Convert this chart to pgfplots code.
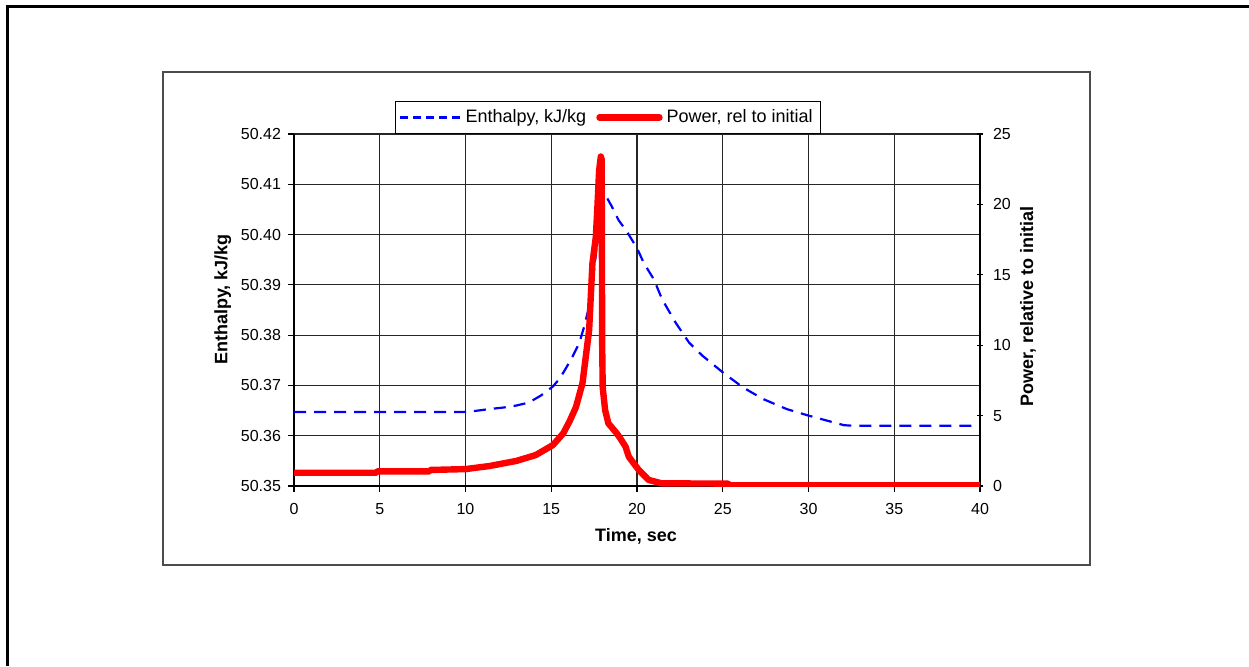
\documentclass[border=0pt]{standalone}
\usepackage{fontspec}
\setmainfont{Liberation Sans}
\usepackage{pgfplots}
\pgfplotsset{compat=1.18}

\pgfplotstableread{
t h
0 50.3647
9.8 50.3647
10.5 50.3649
11.4 50.3653
12.2 50.3656
12.96 50.3660
13.7 50.3666
14.4 50.3680
15.1 50.3698
15.5 50.3714
15.87 50.3735
16.25 50.3758
16.63 50.3784
16.92 50.3817
17.21 50.3857
17.4 50.3903
17.6 50.3960
17.8 50.4030
17.98 50.4088
18.04 50.4086
18.53 50.4056
18.92 50.4029
19.41 50.4006
20.0 50.3973
20.39 50.3944
20.98 50.3911
21.47 50.3871
22.25 50.3825
23.04 50.3785
23.82 50.3759
25.0 50.3726
26.18 50.3696
27.35 50.3673
28.73 50.3653
30.0 50.3640
31.08 50.3630
32.06 50.3621
32.5 50.3620
40 50.3620
}\enthalpy

\pgfplotstableread{
t p
0 0.94
4.8 0.94
4.85 1.04
7.9 1.04
7.95 1.14
10 1.2
11.4 1.42
12.96 1.78
14.1 2.2
15.1 2.91
15.7 3.74
16.07 4.6
16.44 5.6
16.82 7.3
17.21 11.1
17.4 15.8
17.6 17.7
17.69 19.8
17.79 22.4
17.89 23.4
17.94 23.2
17.97 10.0
18.0 7.0
18.14 5.4
18.33 4.45
18.82 3.74
19.02 3.39
19.33 2.8
19.52 2.08
20.1 1.14
20.68 0.43
21.44 0.19
25.3 0.17
25.4 0.05
40 0.05
}\power

\begin{document}
\begin{tikzpicture}
\useasboundingbox (0,0) rectangle (624.5pt,333pt);
% outer frame (only left and top visible)
\draw[line width=1.4pt] (3.85pt,0pt) -- (3.85pt,329.9pt) -- (624.5pt,329.9pt);
% chart area frame
\draw[black!70, line width=1pt] (81.5pt,50.5pt) rectangle (545pt,297pt);

\pgfplotsset{
  every tick label/.append style={font=\fontsize{8}{9.6}\selectfont},
  every axis label/.append style={font=\fontsize{9}{10.8}\selectfont\bfseries},
  /pgf/number format/assume math mode=true,
}

\begin{axis}[
  at={(147pt,90pt)}, anchor=south west,
  scale only axis, width=343pt, height=176pt,
  xmin=0, xmax=40, ymin=50.35, ymax=50.42,
  xtick={0,5,10,15,20,25,30,35,40},
  ytick={50.35,50.36,50.37,50.38,50.39,50.40,50.41,50.42},
  yticklabel style={/pgf/number format/.cd, fixed, fixed zerofill, precision=2},
  xticklabel style={yshift=-2pt},
  axis x line*=bottom, axis y line*=left,
  axis line style={black, line width=0.8pt, -},
  tick align=outside, major tick length=3pt,
  tick style={black, line width=0.6pt},
  grid=major, grid style={black!85, line width=0.55pt},
  xlabel={Time, sec}, ylabel={Enthalpy, kJ/kg},
  xlabel style={at={(axis description cs:0.4985,-0.142)}, anchor=center},
  ylabel style={at={(axis description cs:-0.104,0.53)}, anchor=center},
]
\addplot[blue, line width=1.1pt, dash pattern=on 6pt off 4pt] table[x=t,y=h] {\enthalpy};
\end{axis}

\begin{axis}[
  at={(147pt,90pt)}, anchor=south west,
  scale only axis, width=343pt, height=176pt,
  xmin=0, xmax=40, ymin=0, ymax=25,
  ytick={0,5,10,15,20,25},
  axis x line=none, axis y line*=right,
  axis line style={black, line width=0.8pt, -},
  tick align=center, major tick length=3pt,
  tick style={black, line width=0.6pt},
  yticklabel style={xshift=1.5pt},
  ylabel={Power, relative to initial},
  ylabel style={at={(axis description cs:1.070,0.511)}, anchor=center, rotate=0},
  legend columns=2,
  legend style={at={(0.147,1.0)}, anchor=south west, draw=black, line width=0.5pt,
    font=\fontsize{9}{10.8}\selectfont, inner sep=2pt,
    /tikz/every even column/.append style={column sep=3pt}},
  legend image code/.code={\draw[#1] (0pt,0pt) -- (30pt,0pt);},
]
\addlegendimage{blue, line width=1.1pt, dash pattern=on 4pt off 2.5pt}
\addlegendentry{Enthalpy, kJ/kg}
\addplot[red, line width=3.2pt, line join=round, line cap=round] table[x=t,y=p] {\power};
\addlegendentry{Power, rel to initial}
\end{axis}
\end{tikzpicture}
\end{document}
